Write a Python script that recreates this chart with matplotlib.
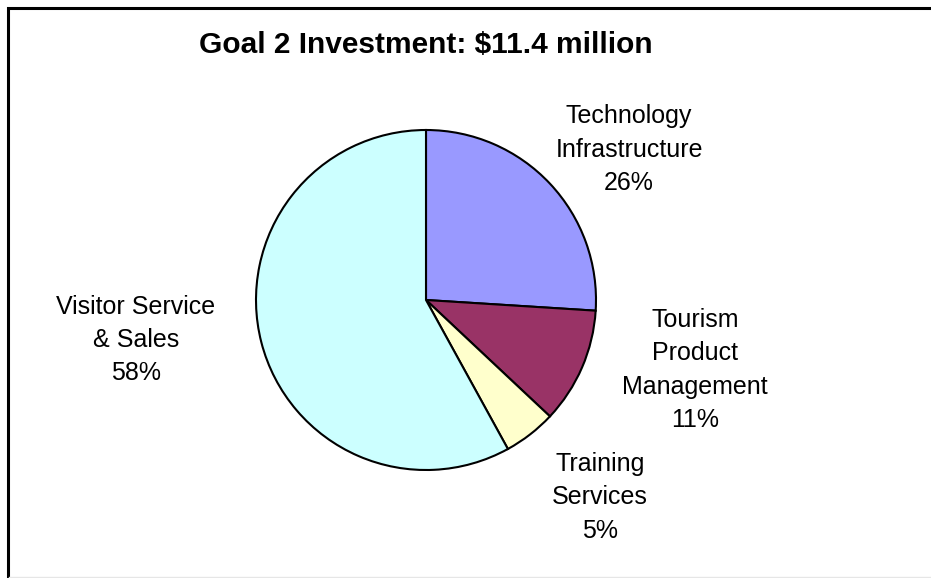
import matplotlib
matplotlib.use("Agg")
import matplotlib.pyplot as plt
from matplotlib.patches import Rectangle
from matplotlib.lines import Line2D

plt.rcParams['font.family'] = ['Liberation Sans', 'DejaVu Sans']

# Investment shares (percent)
categories = ["Technology\nInfrastructure", "Tourism\nProduct\nManagement",
              "Training\nServices", "Visitor Service\n& Sales"]
shares = [26, 11, 5, 58]
colors = ["#9999FF", "#993366", "#FFFFCC", "#CCFFFF"]
title = "Goal 2 Investment: $11.4 million"

W, H, DPI = 931, 578, 100
cx, cy, R = 426, 300, 170  # pie centre and radius in pixels

fig = plt.figure(figsize=(W / DPI, H / DPI), dpi=DPI)
ax = fig.add_axes([0, 0, 1, 1])
ax.axis('off')

ax.pie(shares, colors=colors, startangle=90, counterclock=False, radius=1,
       wedgeprops=dict(edgecolor='black', linewidth=1.5))
ax.set_aspect('equal', adjustable='datalim')
ax.set_xlim((0 - cx) / R, (W - cx) / R)
ax.set_ylim((cy - H) / R, cy / R)

# label block centres in pixel coordinates
label_px = [(629, 150), (695, 370), (600, 497), (136, 340)]
for name, val, (px, py) in zip(categories, shares, label_px):
    ax.text((px - cx) / R, (cy - py) / R, f"{name}\n{val}%",
            ha='center', va='center', fontsize=18, linespacing=1.5,
            color='black')

fig.text(426 / W, 1 - 53 / H, title, ha='center', va='baseline',
         fontsize=21.5, fontweight='bold')

# chart frame, running off the right and bottom edges
fig.patches.append(Rectangle((7.5 / W, -0.05), 1.1, 1 - 7.5 / H + 0.05,
                             transform=fig.transFigure, fill=False,
                             edgecolor='black', linewidth=2.2))
fig.lines.append(Line2D([9 / W, 1], [1 - 577 / H] * 2,
                        transform=fig.transFigure, color='#e6e6e6',
                        linewidth=1.0))

fig.savefig("out.png", dpi=DPI, facecolor='white')
